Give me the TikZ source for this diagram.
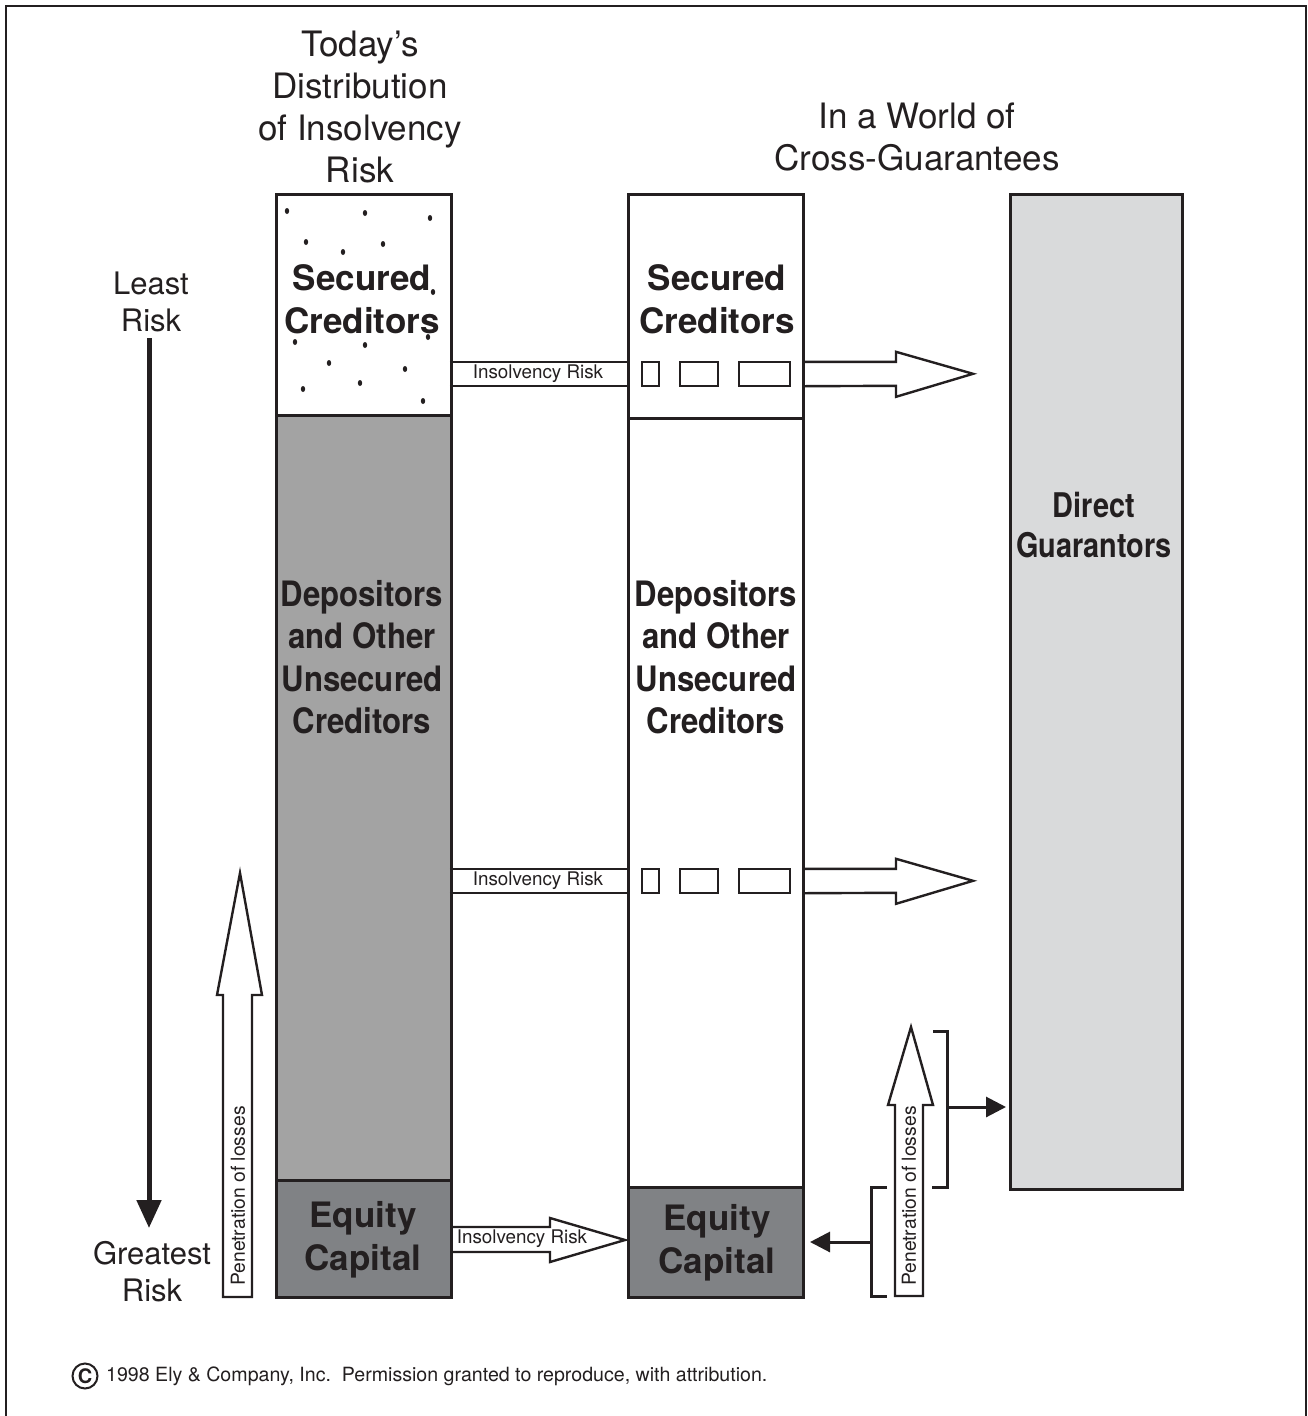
\documentclass[tikz,border=0pt]{standalone}
\usepackage{fontspec}
\setmainfont{TeX Gyre Heros}
\newfontfamily\narrowheros{TeX Gyre Heros}[FakeStretch=0.89]
\newfontfamily\narrowerheros{TeX Gyre Heros}[FakeStretch=0.85]
\usetikzlibrary{arrows.meta,calc}
\definecolor{ink}{HTML}{231F20}
\definecolor{midgray}{HTML}{A3A3A3}
\definecolor{darkgray}{HTML}{808285}
\definecolor{lightgray}{HTML}{D9DADB}

\begin{document}
\begin{tikzpicture}[x=1pt,y=-1pt,
  every node/.style={text=ink},
  colbox/.style={draw=ink, line width=3pt, anchor=north west, minimum width=175pt, inner sep=0pt},
  title/.style={align=center, font=\fontsize{35}{42}\selectfont},
  side/.style={align=center, font=\fontsize{31}{37}\selectfont},
  boxtext/.style={align=center, font=\fontsize{35}{42.5}\selectfont\bfseries},
  narrowtext/.style={align=center, font=\narrowheros\fontsize{35}{42.5}\selectfont\bfseries},
  smalltext/.style={font=\fontsize{18.8}{22}\selectfont, inner sep=0pt},
  band/.style={minimum width=177pt, minimum height=24pt, inner sep=0pt},
  bandline/.style={draw=ink, line width=1.8pt},
  gap/.style={draw=ink, line width=1.5pt, minimum height=24pt, inner sep=0pt},
  blockarrow/.style={draw=ink, line width=2.4pt, fill=white, line join=miter},
  bracket/.style={draw=ink, line width=3pt},
  pointer/.style={draw=ink, line width=3pt, -{Triangle[width=20pt,length=20pt]}},
]
\useasboundingbox (0,0) rectangle (1307,1416);

% page frame
\draw[ink, line width=2pt] (6,1416) -- (6,6) -- (1306,6) -- (1306,1416);

% headings
\node[title] (head1) at (360,107) {Today's\\Distribution\\of Insolvency\\Risk};
\node[title] (head2) at (917,137) {In a World of\\Cross-Guarantees};

% risk scale on the left
\node[side] (least) at (151,302) {Least\\Risk};
\node[side] (greatest) at (152,1272) {Greatest\\Risk};
\coordinate (scaletop) at (149,338);
\coordinate (scalebot) at (149,1228);
\draw[ink, line width=5pt, -{Triangle[width=24pt,length=28pt]}] (scaletop) -- (scalebot);

% today's distribution column
\node[colbox, fill=white, minimum height=221pt] (sec1) at (275,193) {};
\node[colbox, fill=midgray, minimum height=765pt] (dep1) at (275,414) {};
\node[colbox, fill=darkgray, minimum height=117pt] (eq1) at (275,1179) {};
\foreach \px/\py in {287/211,365/213,430/218,306/242,383/244,343/252,433/292,
  295/342,365/345,428/337,329/363,405/369,360/383,303/389,423/401}
  \fill[ink] (\px,\py) ellipse [x radius=2.2pt, y radius=3pt];
\node[boxtext] (sec1t) at (362,299) {Secured\\Creditors};
\node[narrowtext] (dep1t) at (362,657) {Depositors\\and Other\\Unsecured\\Creditors};
\node[boxtext] (eq1t) at (363,1240) {Equity\\Capital};

% cross-guarantee column
\node[colbox, fill=white, minimum height=224pt] (sec2) at (627,193) {};
\node[colbox, fill=white, minimum height=769pt] (dep2) at (627,417) {};
\node[colbox, fill=darkgray, minimum height=110pt] (eq2) at (627,1186) {};
\node[boxtext] (sec2t) at (717,299) {Secured\\Creditors};
\node[narrowtext] (dep2t) at (716,657) {Depositors\\and Other\\Unsecured\\Creditors};
\node[boxtext] (eq2t) at (717,1243) {Equity\\Capital};

% direct guarantors
\node[colbox, fill=lightgray, minimum width=172pt, minimum height=995pt] (guar) at (1009,193) {};
\node[align=center, font=\narrowerheros\fontsize{34}{40}\selectfont\bfseries] (guart) at (1094,525) {Direct\\Guarantors};

% insolvency risk passing through the secured creditors
\node[band] (risk1) at (538.5,374) {};
\node[smalltext] (risk1t) at (538,374) {Insolvency Risk};
\draw[bandline] (risk1.north west) -- (risk1.north east) (risk1.south west) -- (risk1.south east);
\node[gap, minimum width=17pt] (g1a) at (650.5,374) {};
\node[gap, minimum width=38pt] (g1b) at (699,374) {};
\node[gap, minimum width=51pt] (g1c) at (764.5,374) {};
\draw[blockarrow] (sec2.east |- risk1.north) -- ++(91,0) -- ++(0,-10) -- ++(77,22)
  -- ++(-77,23) -- ++(0,-11) -- (sec2.east |- risk1.south);

% insolvency risk passing through the unsecured creditors
\node[band] (risk2) at (538.5,881) {};
\node[smalltext] (risk2t) at (538,881) {Insolvency Risk};
\draw[bandline] (risk2.north west) -- (risk2.north east) (risk2.south west) -- (risk2.south east);
\node[gap, minimum width=17pt] (g2a) at (650.5,881) {};
\node[gap, minimum width=38pt] (g2b) at (699,881) {};
\node[gap, minimum width=51pt] (g2c) at (764.5,881) {};
\draw[blockarrow] (dep2.east |- risk2.north) -- ++(91,0) -- ++(0,-10) -- ++(77,22)
  -- ++(-77,23) -- ++(0,-11) -- (dep2.east |- risk2.south);

% insolvency risk from equity to equity
\coordinate (risk3tip) at (625,1240);
\draw[blockarrow] (eq1.east |- 0,1227) -- (550,1227) -- (550,1218) -- (risk3tip)
  -- (550,1262) -- (550,1252) -- (eq1.east |- 0,1252);
\node[smalltext] (risk3t) at (522,1239) {Insolvency Risk};

% penetration of losses, left
\draw[blockarrow] (223,1297) -- (223,995) -- (217,995) -- (240,873) -- (262,995)
  -- (252,995) -- (252,1297) -- cycle;
\node[smalltext, rotate=90, font=\fontsize{19.3}{22}\selectfont] (pen1) at (238,1196) {Penetration of losses};

% penetration of losses, right
\draw[blockarrow] (895,1296) -- (895,1105) -- (888,1105) -- (911,1027) -- (933,1105)
  -- (923,1105) -- (923,1296) -- cycle;
\node[smalltext, rotate=90, font=\fontsize{19.3}{22}\selectfont] (pen2) at (909,1196) {Penetration of losses};

% brackets sending losses to guarantors and to equity
\coordinate (brR) at (947,1107);
\draw[bracket] (933,1031) -- (947,1031) -- (947,1187) -- (932,1187);
\draw[pointer, shorten >=3pt] (brR) -- (guar.west |- brR);
\coordinate (brL) at (871,1242);
\draw[bracket] (887,1187) -- (871,1187) -- (871,1296) -- (887,1296);
\draw[pointer, shorten >=5pt] (brL) -- (eq2.east |- brL);

% copyright line
\node[draw=ink, circle, line width=2pt, inner sep=0pt, minimum size=25pt,
  font=\fontsize{20}{20}\selectfont\bfseries] (copy) at (85,1376) {C};
\node[anchor=west, inner sep=0pt, font=\fontsize{19.6}{22}\selectfont] (credit) at (106,1376)
  {1998 Ely \& Company, Inc.\ \ Permission granted to reproduce, with attribution.};
\end{tikzpicture}
\end{document}
